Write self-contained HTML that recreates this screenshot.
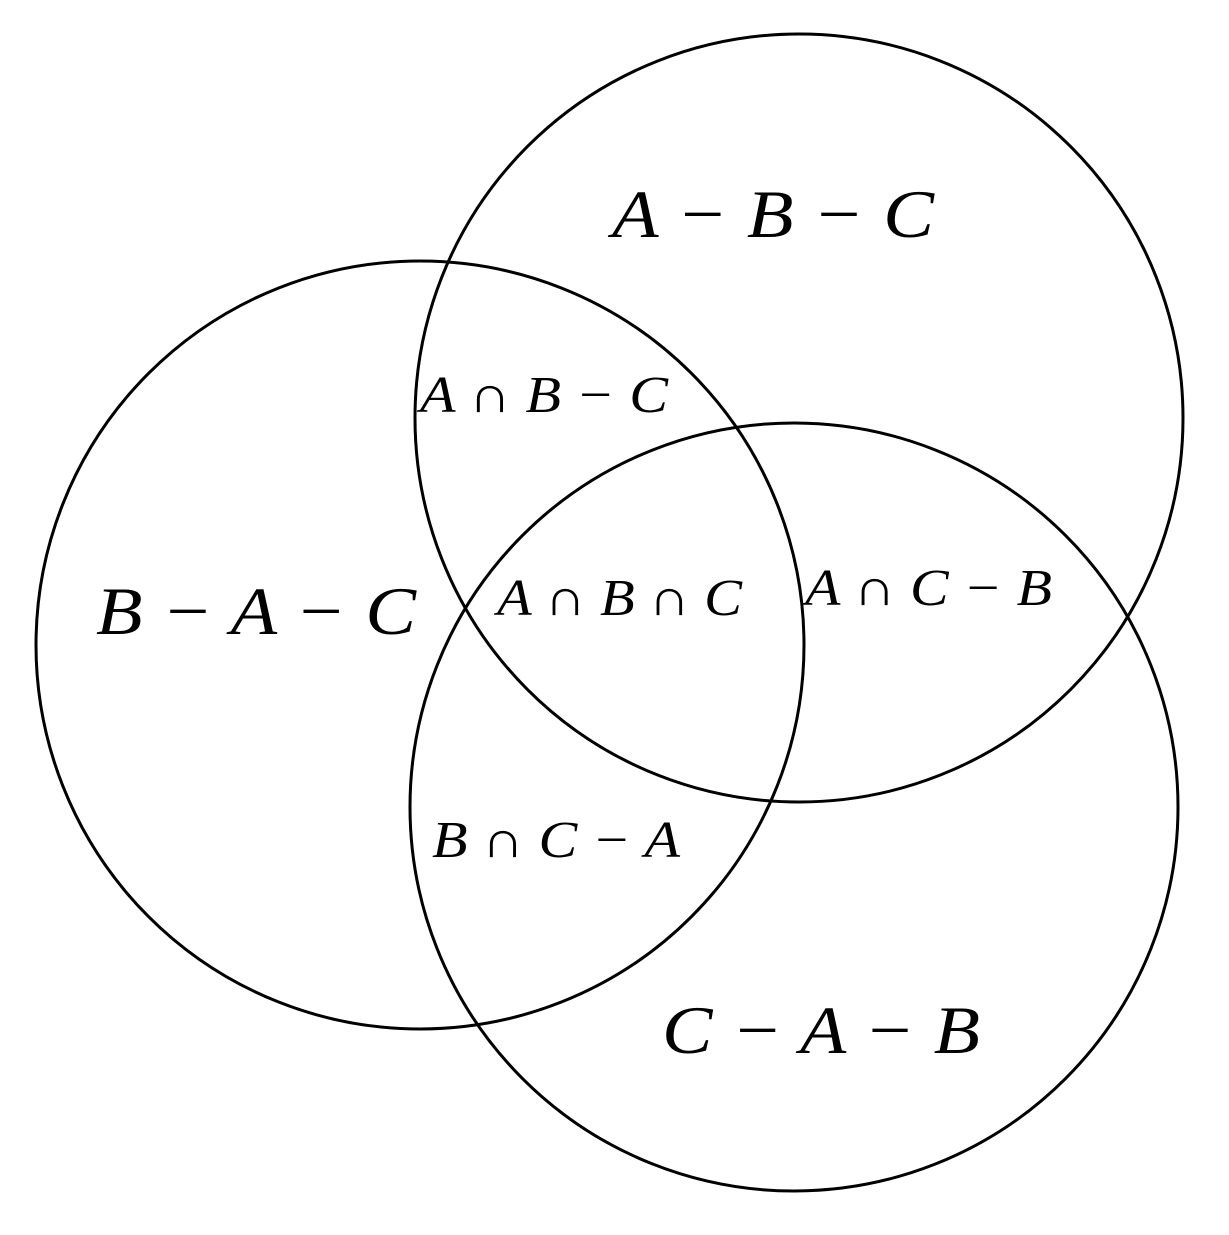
<!DOCTYPE html>
<html><head><meta charset="utf-8"><style>html,body{margin:0;padding:0;background:#fff}</style></head>
<body>
<svg width="1229" height="1230" xmlns="http://www.w3.org/2000/svg">
<rect width="1229" height="1230" fill="#fff"/>
<g fill="none" stroke="#000" stroke-width="3">
<circle cx="799" cy="418" r="384"/>
<circle cx="420" cy="645" r="384"/>
<circle cx="794" cy="807" r="384"/>
</g>
<g font-family="Liberation Serif, serif" font-style="italic" fill="#000">
<text x="612" y="237" font-size="68" textLength="322" lengthAdjust="spacingAndGlyphs">A − B − C</text>
<text x="96" y="634" font-size="68" textLength="320" lengthAdjust="spacingAndGlyphs">B − A − C</text>
<text x="662" y="1053" font-size="68" textLength="318" lengthAdjust="spacingAndGlyphs">C − A − B</text>
<text x="420" y="412" font-size="52" textLength="248" lengthAdjust="spacingAndGlyphs">A ∩ B − C</text>
<text x="497" y="615" font-size="52" textLength="245" lengthAdjust="spacingAndGlyphs">A ∩ B ∩ C</text>
<text x="805" y="605" font-size="52" textLength="247" lengthAdjust="spacingAndGlyphs">A ∩ C − B</text>
<text x="432" y="857" font-size="52" textLength="248" lengthAdjust="spacingAndGlyphs">B ∩ C − A</text>
</g>
</svg>
</body></html>
